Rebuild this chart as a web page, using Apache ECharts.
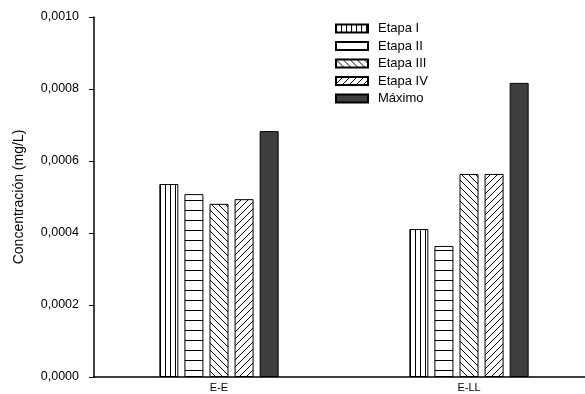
<!DOCTYPE html>
<html>
<head>
<meta charset="utf-8">
<script src="https://cdn.jsdelivr.net/npm/echarts@6/dist/echarts.min.js"></script>
<style>
  html, body { margin: 0; padding: 0; background: #fff; }
  #chart { width: 585px; height: 394px; }
</style>
</head>
<body>
<div id="chart"></div>
<script>
// Sampling sites on the x axis
const categories = ['E-E', 'E-LL'];
// Series names (legend order)
const seriesNames = ['Etapa I', 'Etapa II', 'Etapa III', 'Etapa IV', 'Máximo'];
// Concentration values (mg/L) per series, one per site
const etapa1 = [0.000536, 0.000411];
const etapa2 = [0.000508, 0.000364];
const etapa3 = [0.000481, 0.000564];
const etapa4 = [0.000494, 0.000564];
const maximo = [0.000683, 0.000817];
// Y axis range and step
const yMin = 0;
const yMax = 0.001;
const yStep = 0.0002;

const FONT = '"Liberation Sans", Arial, sans-serif';

// Build a hatch fill as a repeating canvas pattern
function hatch(kind) {
  const c = document.createElement('canvas');
  let w = 5, h = 5;
  if (kind === 'h') { w = 10; h = 10; }
  if (kind === 'bs' || kind === 'fs') { w = 7; h = 7; }
  c.width = w; c.height = h;
  const g = c.getContext('2d');
  g.fillStyle = '#fff';
  g.fillRect(0, 0, w, h);
  g.strokeStyle = '#000';
  g.lineWidth = 1;
  g.beginPath();
  if (kind === 'v') {
    g.moveTo(0.5, 0); g.lineTo(0.5, h);
  } else if (kind === 'h') {
    g.moveTo(0, 0.5); g.lineTo(w, 0.5);
  } else if (kind === 'bs') {
    g.moveTo(-1, -1); g.lineTo(w + 1, h + 1);
    g.moveTo(-1, h - 1); g.lineTo(1, h + 1);
    g.moveTo(w - 1, -1); g.lineTo(w + 1, 1);
  } else if (kind === 'fs') {
    g.moveTo(-1, h + 1); g.lineTo(w + 1, -1);
    g.moveTo(-1, 1); g.lineTo(1, -1);
    g.moveTo(w - 1, h + 1); g.lineTo(w + 1, h - 1);
  }
  g.stroke();
  return { image: c, repeat: 'repeat' };
}

const fills = [hatch('v'), hatch('h'), hatch('bs'), hatch('fs'), '#3f3f3f'];
const dataSets = [etapa1, etapa2, etapa3, etapa4, maximo];

const chart = echarts.init(document.getElementById('chart'), null, { renderer: 'canvas' });

chart.setOption({
  animation: false,
  backgroundColor: '#fff',
  textStyle: { fontFamily: FONT, color: '#000' },
  grid: {
    left: 94, top: 17, bottom: 17, right: -9,
    containLabel: false,
    outerBoundsMode: 'none'
  },
  legend: {
    orient: 'vertical',
    left: 330,
    top: 17,
    itemWidth: 32,
    itemHeight: 8,
    itemGap: 4.5,
    icon: 'rect',
    textStyle: { fontFamily: FONT, fontSize: 13, lineHeight: 13, color: '#000', padding: [0, 0, 0, 5] },
    data: seriesNames
  },
  xAxis: {
    type: 'category',
    data: categories,
    boundaryGap: true,
    axisLine: { lineStyle: { color: '#000', width: 1.5 } },
    axisTick: { show: false },
    axisLabel: { fontFamily: FONT, fontSize: 11, color: '#000', margin: 5 },
    splitLine: { show: false }
  },
  yAxis: {
    type: 'value',
    min: yMin,
    max: yMax,
    interval: yStep,
    name: 'Concentración (mg/L)',
    nameLocation: 'middle',
    nameGap: 68,
    nameTextStyle: { fontFamily: FONT, fontSize: 14, color: '#000' },
    axisLine: { show: true, lineStyle: { color: '#000', width: 1.5 } },
    axisTick: { show: true, length: 5, lineStyle: { color: '#000', width: 1 } },
    axisLabel: {
      fontFamily: FONT, fontSize: 12.5, color: '#000', margin: 15,
      formatter: v => v.toFixed(4).replace('.', ',')
    },
    splitLine: { show: false }
  },
  series: seriesNames.map((name, i) => ({
    name,
    type: 'bar',
    data: dataSets[i],
    barWidth: 19,
    barGap: '32%',
    itemStyle: { color: fills[i], borderColor: '#000', borderWidth: 1 }
  }))
});
</script>
</body>
</html>
